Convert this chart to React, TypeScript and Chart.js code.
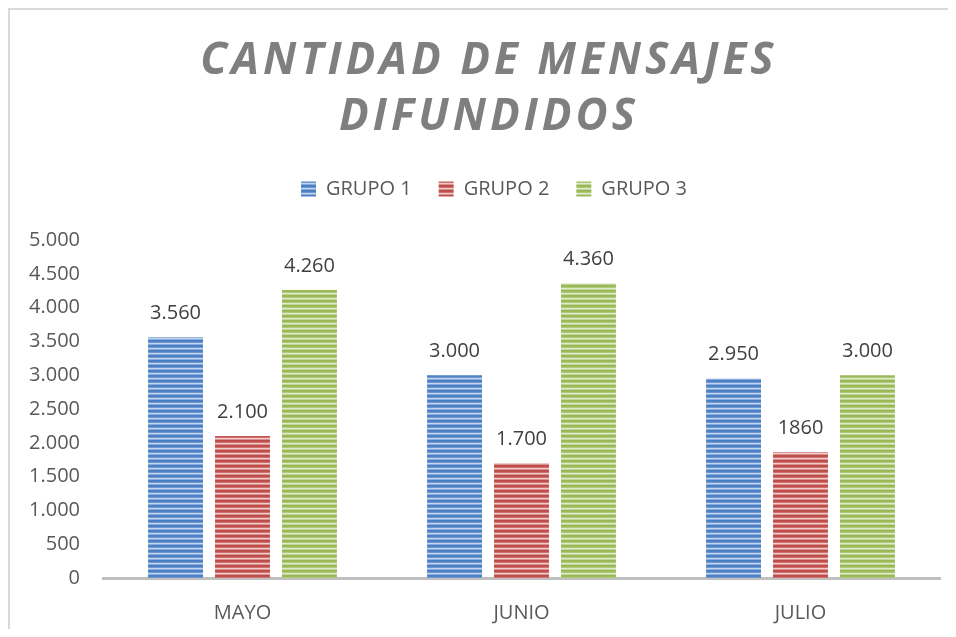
import React, { useEffect, useRef } from "react";
import { Chart, registerables } from "chart.js";

Chart.register(...registerables);

const categories = ["MAYO", "JUNIO", "JULIO"];
const seriesNames = ["GRUPO 1", "GRUPO 2", "GRUPO 3"];
const grupo1 = [3560, 3000, 2950];
const grupo2 = [2100, 1700, 1860];
const grupo3 = [4260, 4360, 3000];
const valueLabels1 = ["3.560", "3.000", "2.950"];
const valueLabels2 = ["2.100", "1.700", "1860"];
const valueLabels3 = ["4.260", "4.360", "3.000"];
const titleLines = ["CANTIDAD DE MENSAJES", "DIFUNDIDOS"];
const yMin = 0;
const yMax = 5000;
const yStep = 500;

const FONT = "'Open Sans', 'DejaVu Sans', sans-serif";

function formatThousands(v: number): string {
  if (v >= 1000) {
    const th = Math.floor(v / 1000);
    const rest = String(v % 1000).padStart(3, "0");
    return `${th}.${rest}`;
  }
  return String(v);
}

function makeStripes(rows: string[]): CanvasPattern | string {
  const c = document.createElement("canvas");
  c.width = 4;
  c.height = rows.length;
  const g = c.getContext("2d");
  if (!g) return rows[0];
  rows.forEach((col, i) => {
    g.fillStyle = col;
    g.fillRect(0, i, 4, 1);
  });
  const p = g.createPattern(c, "repeat");
  return p || rows[0];
}

const valueLabelPlugin = {
  id: "valueLabels",
  afterDatasetsDraw(chart: any) {
    const ctx = chart.ctx;
    const all = [valueLabels1, valueLabels2, valueLabels3];
    ctx.save();
    ctx.font = `20px ${FONT}`;
    ctx.fillStyle = "#404040";
    ctx.textAlign = "center";
    ctx.textBaseline = "middle";
    chart.data.datasets.forEach((_ds: any, di: number) => {
      const meta = chart.getDatasetMeta(di);
      meta.data.forEach((bar: any, i: number) => {
        ctx.fillText(all[di][i], bar.x, bar.y - 24);
      });
    });
    ctx.restore();
  },
};

const layoutTweaks = {
  id: "layoutTweaks",
  beforeLayout(chart: any) {
    const lg = chart.legend;
    if (lg && !lg.__wrapped) {
      const f = lg.fit;
      lg.fit = function () {
        f.call(this);
        this.height += 31;
      };
      const ld = lg.draw;
      lg.draw = function () {
        const c = this.ctx;
        c.save();
        c.translate(19, 0);
        ld.call(this);
        c.restore();
      };
      lg.__wrapped = true;
    }
    const tb = chart.titleBlock;
    if (tb && !tb.__wrapped) {
      const d = tb.draw;
      tb.draw = function () {
        const c = this.ctx;
        c.save();
        try {
          (c as any).letterSpacing = "4px";
        } catch (e) {}
        c.translate(14, 0);
        d.call(this);
        c.restore();
      };
      tb.__wrapped = true;
    }
  },
};

export default function App() {
  const ref = useRef<HTMLCanvasElement | null>(null);

  useEffect(() => {
    if (!ref.current) return;
    const blue = makeStripes(["#4a7ec4", "#4f81c4", "#6f98d2", "#c2d4ee", "#8aaddd"]);
    const red = makeStripes(["#bd4b48", "#c0504d", "#d07370", "#f0cbca", "#da9390"]);
    const green = makeStripes(["#97b852", "#9bbb59", "#afc97a", "#e0ebcc", "#c0d598"]);

    const chart = new Chart(ref.current, {
      type: "bar",
      data: {
        labels: categories,
        datasets: [
          { label: seriesNames[0], data: grupo1, backgroundColor: blue as any, borderWidth: 0 },
          { label: seriesNames[1], data: grupo2, backgroundColor: red as any, borderWidth: 0 },
          { label: seriesNames[2], data: grupo3, backgroundColor: green as any, borderWidth: 0 },
        ],
      },
      options: {
        animation: false,
        responsive: true,
        maintainAspectRatio: false,
        layout: { padding: { left: 0, right: 8, top: 0, bottom: 0 } },
        datasets: {
          bar: { categoryPercentage: 0.72, barPercentage: 0.82 },
        },
        plugins: {
          title: {
            display: true,
            text: titleLines,
            color: "#7f7f7f",
            font: { family: FONT, size: 44, weight: "bold", style: "italic", lineHeight: 56 / 44 },
            padding: { top: 23, bottom: 7 },
          },
          legend: {
            display: true,
            position: "top",
            labels: {
              boxWidth: 15,
              boxHeight: 15,
              padding: 27,
              color: "#595959",
              font: { family: FONT, size: 20 },
            },
          },
          tooltip: { enabled: false },
        },
        scales: {
          x: {
            grid: { display: false, drawTicks: false },
            border: { display: true, color: "#bfbfbf", width: 3 },
            ticks: { color: "#595959", font: { family: FONT, size: 20 }, padding: 23 },
            afterFit: (s: any) => {
              s.height = 51;
            },
          },
          y: {
            min: yMin,
            max: yMax,
            grid: { display: false, drawTicks: false },
            border: { display: false },
            ticks: {
              stepSize: yStep,
              color: "#595959",
              font: { family: FONT, size: 20 },
              padding: 23,
              callback: (v: any) => formatThousands(Number(v)),
            },
            afterFit: (s: any) => {
              s.width = 93;
            },
          },
        },
      },
      plugins: [valueLabelPlugin, layoutTweaks],
    });
    return () => chart.destroy();
  }, []);

  return (
    <div
      style={{
        height: 619,
        borderTop: "2px solid #d9d9d9",
        borderLeft: "2px solid #d9d9d9",
        position: "relative",
      }}
    >
      <canvas ref={ref} />
    </div>
  );
}
